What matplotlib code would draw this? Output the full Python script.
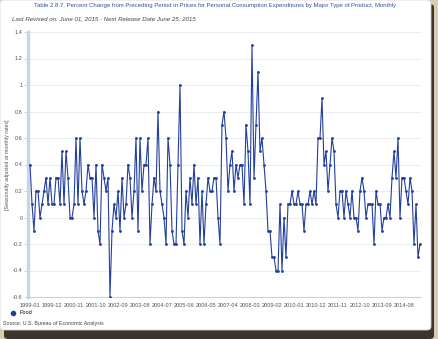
import matplotlib
matplotlib.use('Agg')
import matplotlib.pyplot as plt
from matplotlib.patches import FancyBboxPatch
from matplotlib.lines import Line2D
import numpy as np
import pandas as pd

plt.rcParams['font.family'] = ['Liberation Sans', 'DejaVu Sans']

# monthly percent change, food, 1999-01 .. 2015-04
food = [0.4, 0.1, -0.1, 0.2, 0.2, 0.0, 0.1, 0.2, 0.3, 0.1,
        0.3, 0.1, 0.1, 0.3, 0.3, 0.1, 0.5, 0.1, 0.5, 0.3,
        0.0, 0.0, 0.1, 0.6, 0.1, 0.6, 0.2, 0.1, 0.2, 0.4,
        0.3, 0.3, 0.0, 0.4, -0.1, -0.2, 0.4, 0.3, 0.2, 0.3,
        -0.6, -0.1, 0.1, 0.0, 0.2, -0.1, 0.3, 0.0, 0.1, 0.4,
        0.3, 0.0, 0.2, 0.6, -0.1, 0.6, 0.2, 0.4, 0.4, 0.6,
        -0.2, 0.1, 0.3, 0.2, 0.8, 0.2, 0.1, 0.0, -0.2, 0.6,
        0.4, -0.1, -0.2, -0.2, 0.4, 1.0, -0.1, -0.2, 0.2, 0.0,
        0.3, 0.1, 0.4, 0.1, 0.3, -0.2, 0.2, -0.2, 0.1, 0.3,
        0.2, 0.2, 0.3, 0.3, 0.0, -0.2, 0.7, 0.8, 0.6, 0.2,
        0.4, 0.5, 0.2, 0.4, 0.3, 0.4, 0.4, 0.1, 0.7, 0.5,
        0.1, 1.3, 0.3, 0.7, 1.1, 0.5, 0.6, 0.4, 0.2, -0.1,
        -0.1, -0.3, -0.3, -0.4, -0.4, 0.1, -0.4, 0.0, -0.3, 0.1,
        0.1, 0.2, 0.1, 0.1, 0.2, 0.1, 0.1, -0.1, 0.1, 0.1,
        0.2, 0.1, 0.2, 0.1, 0.6, 0.6, 0.9, 0.4, 0.5, 0.2,
        0.4, 0.6, 0.5, 0.1, 0.0, 0.2, 0.2, 0.0, 0.2, 0.1,
        0.0, 0.2, 0.0, 0.0, -0.1, 0.2, 0.3, 0.2, 0.0, 0.1,
        0.1, 0.1, -0.2, 0.2, 0.1, 0.1, -0.1, 0.0, 0.0, 0.1,
        0.0, 0.3, 0.5, 0.3, 0.6, 0.0, 0.3, 0.3, 0.2, 0.1,
        0.3, 0.2, -0.2, 0.1, -0.3, -0.2]
months = list(pd.period_range('1999-01', periods=len(food), freq='M').strftime('%Y-%m'))
yticks = [1.4, 1.2, 1.0, 0.8, 0.6, 0.4, 0.2, 0.0, -0.2, -0.4, -0.6]
ylabels = ['1.4', '1.2', '1', '0.8', '0.6', '0.4', '0.2', '0', '-0.2', '-0.4', '-0.6']

title = ('Table 2.8.7. Percent Change from Preceding Period in Prices for Personal '
         'Consumption Expenditures by Major Type of Product, Monthly')
subtitle = 'Last Revised on: June 01, 2015 - Next Release Date June 25, 2015'

W, H = 439, 339
fig = plt.figure(figsize=(W / 100, H / 100), dpi=100)
fig.patch.set_facecolor('#d6cbb3')

# screenshot card + shadow
shadow = FancyBboxPatch((4 / W, 0 / H), 430 / W, 335 / H, boxstyle='round,pad=0,rounding_size=0.01',
                        transform=fig.transFigure, facecolor='#3b352c', edgecolor='none', zorder=0)
card = FancyBboxPatch((0, 9 / H), 431 / W, 330 / H, boxstyle='round,pad=0,rounding_size=0.01',
                      transform=fig.transFigure, facecolor='white', edgecolor='#d8d8d8',
                      linewidth=0.6, zorder=1)
fig.patches.extend([shadow, card])

ax = fig.add_axes([28 / W, 1 - 297 / H, (421 - 28) / W, (297 - 32) / H])
ax.set_zorder(2)
ax.patch.set_alpha(0)

x = np.arange(len(food))
ax.plot(x, food, color='#23409c', linewidth=0.8, marker='o', markersize=1.0, zorder=3)

ax.set_xlim(-1, len(food) - 0.5)
ax.set_ylim(-0.6, 1.4)
ax.set_yticks(yticks)
ax.set_yticklabels(ylabels)
tick_idx = x[::11]
ax.set_xticks(tick_idx)
ax.set_xticklabels([months[i] for i in tick_idx])

ax.grid(axis='y', color='#ebedf2', linewidth=0.8)
ax.set_axisbelow(True)
for s in ['top', 'right']:
    ax.spines[s].set_visible(False)
ax.spines['left'].set_color('#c6d6ea')
ax.spines['left'].set_linewidth(2.4)
ax.spines['bottom'].set_color('#c6d6ea')
ax.spines['bottom'].set_linewidth(0.8)

ax.tick_params(axis='y', labelsize=4, colors='#c0c0c0', labelcolor='#555555',
               length=3, width=0.5, pad=1)
ax.tick_params(axis='x', labelsize=4.1, labelcolor='#555555', length=0, pad=4)
ax.set_ylabel('[Seasonally adjusted at monthly rates]', fontsize=3.8, color='#555555', labelpad=2)

fig.text(215 / W, 1 - 6 / H, title, ha='center', va='center', fontsize=4.3, color='#34539c')
fig.text(12 / W, 1 - 19 / H, subtitle, ha='left', va='center', fontsize=4.4,
         color='#444444', style='italic')
fig.text(3 / W, 1 - 323 / H, 'Source: U.S. Bureau of Economic Analysis', ha='left', va='center',
         fontsize=3.8, color='#444444')

handle = Line2D([], [], color='#23409c', marker='o', linestyle='none', markersize=3)
fig.legend([handle], ['Food'], loc='center left', bbox_to_anchor=(7 / W, 1 - 313 / H),
           frameon=False, fontsize=4, handlelength=1, handletextpad=0.8, borderpad=0)

fig.savefig('out.png', dpi=100, facecolor=fig.get_facecolor())
